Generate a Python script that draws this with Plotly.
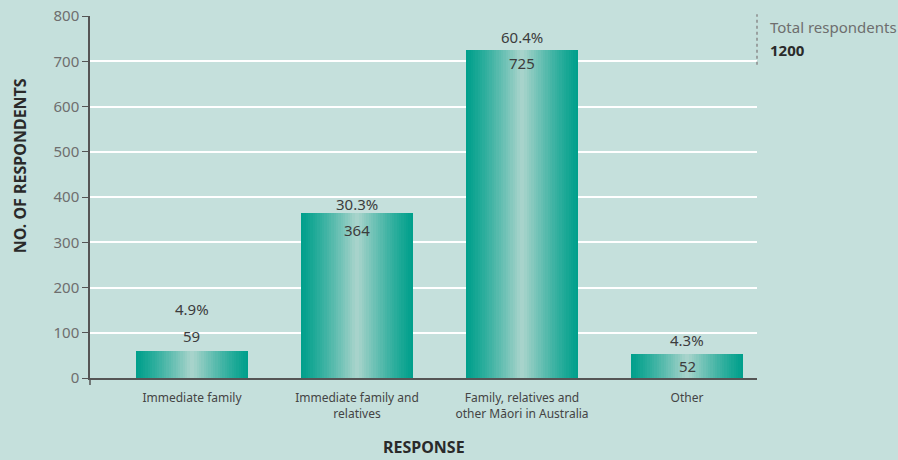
import plotly.graph_objects as go

categories = ["Immediate family", "Immediate family and<br>relatives",
              "Family, relatives and<br>other Māori in Australia", "Other"]
values = [59, 364, 725, 52]
percents = ["4.9%", "30.3%", "60.4%", "4.3%"]
y_ticks = [0, 100, 200, 300, 400, 500, 600, 700, 800]
total_label = "Total respondents"
total_value = "1200"
x_title = "RESPONSE"
y_title = "NO. OF RESPONDENTS"

FONT = "Noto Sans"
BG = "#c5e0dc"
positions = list(range(len(categories)))

fig = go.Figure()

# gradient bars built from thin bar slices
N = 48
W = 0.68
edge = (0, 160, 140)
light = (172, 213, 205)
for i in range(N):
    u = (i + 0.5) / N
    t = 1 - abs(2 * u - 1)
    t = t ** 1.2
    c = tuple(int(edge[k] + (light[k] - edge[k]) * t) for k in range(3))
    fig.add_trace(go.Bar(
        x=positions, y=values,
        width=W / N * 1.15,
        offset=-W / 2 + i * W / N,
        marker=dict(color="rgb(%d,%d,%d)" % c, line=dict(width=0)),
        showlegend=False, hoverinfo="skip",
    ))

# labels
pct_shift = [42, 9, 13, 14]
num_shift = [15, -17, -13, -12]
for i, (x, v) in enumerate(zip(positions, values)):
    fig.add_annotation(x=x, y=v, text=percents[i], showarrow=False,
                       yshift=pct_shift[i], font=dict(family=FONT, size=15, color="#3c3c3c"))
    fig.add_annotation(x=x, y=v, text=str(v), showarrow=False,
                       yshift=num_shift[i], font=dict(family=FONT, size=15, color="#3c3c3c"))

# y axis extension below zero
fig.add_shape(type="line", xref="paper", yref="paper", x0=0, x1=0,
              ysizemode="pixel", yanchor=0, y0=-7, y1=0,
              line=dict(color="#555555", width=1.5))

# total respondents
fig.add_shape(type="line", xref="paper", yref="paper", x0=1.0, x1=1.0, y0=0.865, y1=1.005,
              line=dict(color="#8a8a8a", width=1.5, dash="dot"))
fig.add_annotation(xref="paper", yref="paper", x=1.0, y=0.97, xanchor="left", yanchor="middle",
                   xshift=11, text=total_label, showarrow=False,
                   font=dict(family=FONT, size=15, color="#6e6e6e"))
fig.add_annotation(xref="paper", yref="paper", x=1.0, y=0.905, xanchor="left", yanchor="middle",
                   xshift=11, text="<b>" + total_value + "</b>", showarrow=False,
                   font=dict(family=FONT, size=15, color="#2a2a2a"))

# axis titles
fig.add_annotation(xref="paper", yref="paper", x=0.5, y=0, yanchor="middle",
                   yshift=-69, text="<b>" + x_title + "</b>", showarrow=False,
                   font=dict(family=FONT, size=16, color="#2a2a2a"))
fig.add_annotation(xref="paper", yref="paper", x=0, y=0.585, xanchor="center",
                   xshift=-70, textangle=-90, text="<b>" + y_title + "</b>", showarrow=False,
                   font=dict(family=FONT, size=16, color="#2a2a2a"))

fig.update_layout(
    width=898, height=460,
    margin=dict(l=90, r=141, t=16, b=82),
    paper_bgcolor=BG, plot_bgcolor=BG,
    barmode="overlay", bargap=0,
    font=dict(family=FONT),
    xaxis=dict(
        range=[-0.618, 3.424], tickmode="array", tickvals=positions, ticktext=categories,
        showgrid=False, zeroline=False, showline=True, linecolor="#555555", linewidth=1.5,
        ticks="", ticklabelstandoff=8, automargin=False,
        tickfont=dict(family=FONT, size=12, color="#444444"),
    ),
    yaxis=dict(
        range=[0, 800], tickmode="array", tickvals=y_ticks, automargin=False,
        showgrid=True, gridcolor="#ffffff", gridwidth=1.5, zeroline=False,
        showline=True, linecolor="#555555", linewidth=1.5,
        ticks="outside", ticklen=6, tickcolor="#555555", tickwidth=1.2,
        tickfont=dict(family=FONT, size=15, color="#6e6e6e"),
    ),
)

fig.write_html("out.html")
